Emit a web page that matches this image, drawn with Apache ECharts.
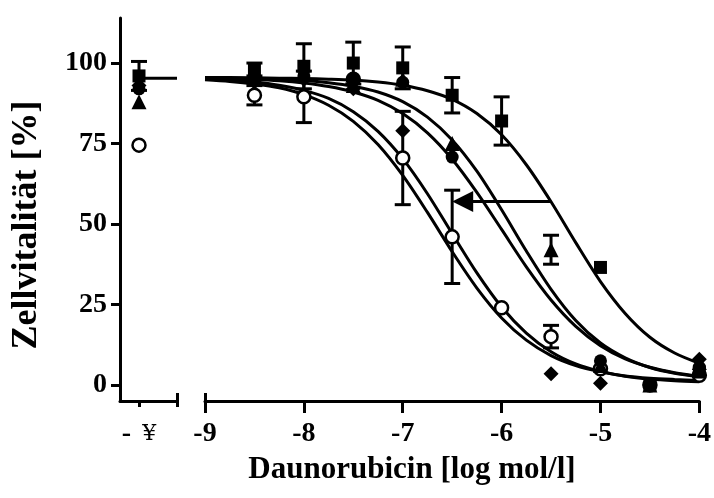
<!DOCTYPE html>
<html><head><meta charset="utf-8">
<script src="https://cdn.jsdelivr.net/npm/echarts@6/dist/echarts.min.js"></script>
<style>html,body{margin:0;padding:0;background:#fff}#c{width:714px;height:498px}</style>
</head><body><div id="c"></div>
<script>
// ---- data ----
const doses = [-8.5, -8, -7.5, -7, -6.5, -6, -5.5, -5, -4.5, -4];
const squareVals   = [98, 99, 100, 98.5, 90, 82, null, 36.5, 0, 4];
const squareSD     = [2, 7, 6.5, 6.5, 5.5, 7.5, null, null, null, null];
const triangleVals = [96, 97, 93, 95, 75, null, 42, 6, 0, 7];
const triangleSD   = [null, null, null, null, null, null, 4.5, null, null, null];
const circleVals   = [95, 96, 95, 94, 70.8, null, null, 7.5, 0, 5.5];
const diamondVals  = [94, 95, 92, 79, null, null, 3.5, 0.5, 0, 8];
const openVals     = [90, 89.5, 95, 70.5, 46, 24, 15, 5, 0, 3];
const openSD       = [3, 8, null, 14.5, 14.5, null, 3.5, null, null, null];

// values at "-infinity" (control)
const ctrlSquare = 96, ctrlSquareSD = 4.5;
const ctrlTriangle = 88, ctrlCircle = 92, ctrlDiamond = 93, ctrlOpen = 74.5;
const ctrlPlateau = 95.3;

// fitted curves at 0.25 log steps
const curveX = [-9,-8.75,-8.5,-8.25,-8,-7.75,-7.5,-7.25,-7,-6.75,-6.5,-6.25,-6,-5.75,-5.5,-5.25,-5,-4.75,-4.5,-4.25,-4];
const curveOpen     = [94.8,94.3,93.5,92.3,90.2,86.9,81.9,74.7,65.1,53.6,41.4,30.1,20.8,13.9,9.1,6.0,4.1,2.8,2.1,1.7,1.4];
const curveDiamond  = [95.0,94.7,94.1,93.1,91.5,89.0,84.9,78.8,70.3,59.4,47.0,34.8,24.2,16.1,10.3,6.5,4.2,2.7,1.8,1.3,1.0];
const curveCircle   = [95.3,95.1,94.9,94.5,93.8,92.7,91.0,88.4,84.3,78.3,70.1,59.8,48.3,36.7,26.4,18.2,12.2,8.1,5.5,3.8,2.7];
const curveTriangle = [95.4,95.3,95.2,95.0,94.6,93.9,92.8,91.0,88.0,83.2,76.1,66.4,54.4,41.6,29.7,20.0,13.0,8.4,5.4,3.6,2.5];
const curveSquare   = [95.5,95.5,95.4,95.3,95.2,95.0,94.7,94.1,93.1,91.4,88.7,84.3,77.7,68.4,56.9,44.2,32.1,22.2,14.8,9.9,6.7];

// arrow
const arrowFrom = -5.5, arrowTo = -6.5, arrowLevel = 57;

const yTicks = [0, 25, 50, 75, 100];
const xTicks = [-9, -8, -7, -6, -5, -4];
const ctrlMinus = '-', ctrlInf = '¥';
const xTitle = 'Daunorubicin [log mol/l]';
const yTitle = 'Zellvitalität [%]';

// ---- chart ----
const FONT = '"Liberation Serif", "Times New Roman", serif';
const lblStyle = {fontFamily: FONT, fontWeight: 'bold', fontSize: 28, color: '#000'};
const blackLine = {color: '#000', width: 3};

function pairs(xs, ys) {
  const out = [];
  xs.forEach((x, i) => { if (ys[i] !== null && ys[i] !== undefined) out.push([x, ys[i]]); });
  return out;
}
function errData(xs, ys, sd) {
  const out = [];
  xs.forEach((x, i) => { if (sd[i] != null && ys[i] != null) out.push([x, ys[i] - sd[i], ys[i] + sd[i]]); });
  return out;
}
function errRender(params, api) {
  const x = api.value(0);
  const lo = api.coord([x, api.value(1)]);
  const hi = api.coord([x, api.value(2)]);
  const w = 8;
  const st = {stroke: '#000', lineWidth: 3, fill: null};
  return {type: 'group', children: [
    {type: 'line', shape: {x1: lo[0], y1: lo[1], x2: hi[0], y2: hi[1]}, style: st},
    {type: 'line', shape: {x1: lo[0]-w, y1: lo[1], x2: lo[0]+w, y2: lo[1]}, style: st},
    {type: 'line', shape: {x1: hi[0]-w, y1: hi[1], x2: hi[0]+w, y2: hi[1]}, style: st}
  ]};
}
function arrowRender(params, api) {
  const a = api.coord([api.value(0), api.value(2)]);
  const b = api.coord([api.value(1), api.value(2)]);
  const hl = 21, hw = 10.5;
  return {type: 'group', children: [
    {type: 'line', shape: {x1: a[0], y1: a[1], x2: b[0] + hl - 2, y2: b[1]}, style: {stroke: '#000', lineWidth: 3}},
    {type: 'polygon', shape: {points: [[b[0], b[1]], [b[0] + hl, b[1] - hw], [b[0] + hl, b[1] + hw]]}, style: {fill: '#000'}}
  ]};
}

const markers = [
  {name: 'open', vals: openVals, ctrl: ctrlOpen, symbol: 'circle', size: 13, fill: '#fff', z: 4},
  {name: 'diamond', vals: diamondVals, ctrl: ctrlDiamond, symbol: 'diamond', size: 15, fill: '#000', z: 5},
  {name: 'circle', vals: circleVals, ctrl: ctrlCircle, symbol: 'circle', size: 13, fill: '#000', z: 5},
  {name: 'triangle', vals: triangleVals, ctrl: ctrlTriangle, symbol: 'triangle', size: 15, fill: '#000', z: 5},
  {name: 'square', vals: squareVals, ctrl: ctrlSquare, symbol: 'rect', size: 13, fill: '#000', z: 5}
];
const curves = [curveOpen, curveDiamond, curveCircle, curveTriangle, curveSquare];

const series = [];
curves.forEach(c => series.push({
  type: 'line', xAxisIndex: 3, yAxisIndex: 1, data: pairs(curveX, c), smooth: 0.3,
  showSymbol: false, lineStyle: blackLine, z: 3, silent: true
}));
series.push({type: 'line', xAxisIndex: 0, yAxisIndex: 0, data: [[1, ctrlPlateau], [3, ctrlPlateau]],
  showSymbol: false, lineStyle: blackLine, z: 3});
[[squareVals, squareSD], [triangleVals, triangleSD], [openVals, openSD]].forEach(([v, s]) => series.push({
  type: 'custom', xAxisIndex: 3, yAxisIndex: 1, renderItem: errRender, data: errData(doses, v, s), z: 2
}));
series.push({type: 'custom', xAxisIndex: 0, yAxisIndex: 0, renderItem: errRender,
  data: [[1, ctrlSquare - ctrlSquareSD, ctrlSquare + ctrlSquareSD]], z: 2});
markers.forEach(m => {
  const st = {color: m.fill, borderColor: '#000', borderWidth: m.fill === '#fff' ? 2.5 : 0, opacity: 1};
  series.push({type: 'scatter', xAxisIndex: 3, yAxisIndex: 1, data: pairs(doses, m.vals),
    symbol: m.symbol, symbolSize: m.size, itemStyle: st, z: m.z});
  series.push({type: 'scatter', xAxisIndex: 0, yAxisIndex: 0, data: [[1, m.ctrl]],
    symbol: m.symbol, symbolSize: m.size, itemStyle: st, z: m.z});
});
series.push({type: 'custom', xAxisIndex: 3, yAxisIndex: 1, renderItem: arrowRender,
  data: [[arrowFrom, arrowTo, arrowLevel]], z: 6});

const hiddenY = {show: false, min: -5, max: 114, gridIndex: 1, type: 'value'};
const baseX = {type: 'value', position: 'bottom', splitLine: {show: false}};
const option = {
  animation: false,
  backgroundColor: '#fff',
  grid: [
    {left: 120, width: 57, top: 18, bottom: 97},
    {left: 205, right: 14, top: 18, bottom: 97}
  ],
  xAxis: [
    {...baseX, gridIndex: 0, min: 0, max: 3,
     axisLine: {onZero: false, lineStyle: blackLine},
     axisTick: {customValues: [1, 3], length: 6, lineStyle: blackLine},
     axisLabel: {customValues: [1], formatter: () => '{m|' + ctrlMinus + '} {i|' + ctrlInf + '}', margin: 19,
       rich: {m: {fontFamily: FONT, fontWeight: 'bold', fontSize: 28, color: '#000', padding: [0, 8, 0, 0]},
              i: {fontFamily: 'DejaVu Serif', fontWeight: 'normal', fontSize: 22, color: '#000'}}}},
    {...baseX, gridIndex: 0, min: 0, max: 3,
     axisLine: {show: false, onZero: false},
     axisTick: {customValues: [3], inside: true, length: 8, lineStyle: blackLine},
     axisLabel: {show: false}},
    {...baseX, gridIndex: 1, min: -9, max: -4,
     axisLine: {show: false, onZero: false},
     axisTick: {customValues: [-9], inside: true, length: 8, lineStyle: blackLine},
     axisLabel: {show: false}},
    {...baseX, gridIndex: 1, min: -9, max: -4, interval: 1,
     axisLine: {onZero: false, lineStyle: blackLine},
     axisTick: {customValues: xTicks, length: 12, lineStyle: blackLine},
     axisLabel: {customValues: xTicks, margin: 19, ...lblStyle}}
  ],
  yAxis: [
    {type: 'value', gridIndex: 0, min: -5, max: 114,
     axisLine: {show: true, onZero: false, lineStyle: blackLine}, splitLine: {show: false},
     axisTick: {show: true, customValues: yTicks, length: 9, lineStyle: blackLine},
     axisLabel: {customValues: yTicks, margin: 13, ...lblStyle}},
    hiddenY
  ],
  graphic: [
    {type: 'text', x: 412, y: 470, z: 10,
     style: {text: xTitle, font: 'bold 31px ' + FONT, fill: '#000', align: 'center', verticalAlign: 'middle'}},
    {type: 'text', x: 27, y: 225, rotation: Math.PI / 2, z: 10,
     style: {text: yTitle, font: 'bold 36px ' + FONT, fill: '#000', align: 'center', verticalAlign: 'middle'}}
  ],
  series: series
};
const chart = echarts.init(document.getElementById('c'));
chart.setOption(option);
</script>
</body></html>
